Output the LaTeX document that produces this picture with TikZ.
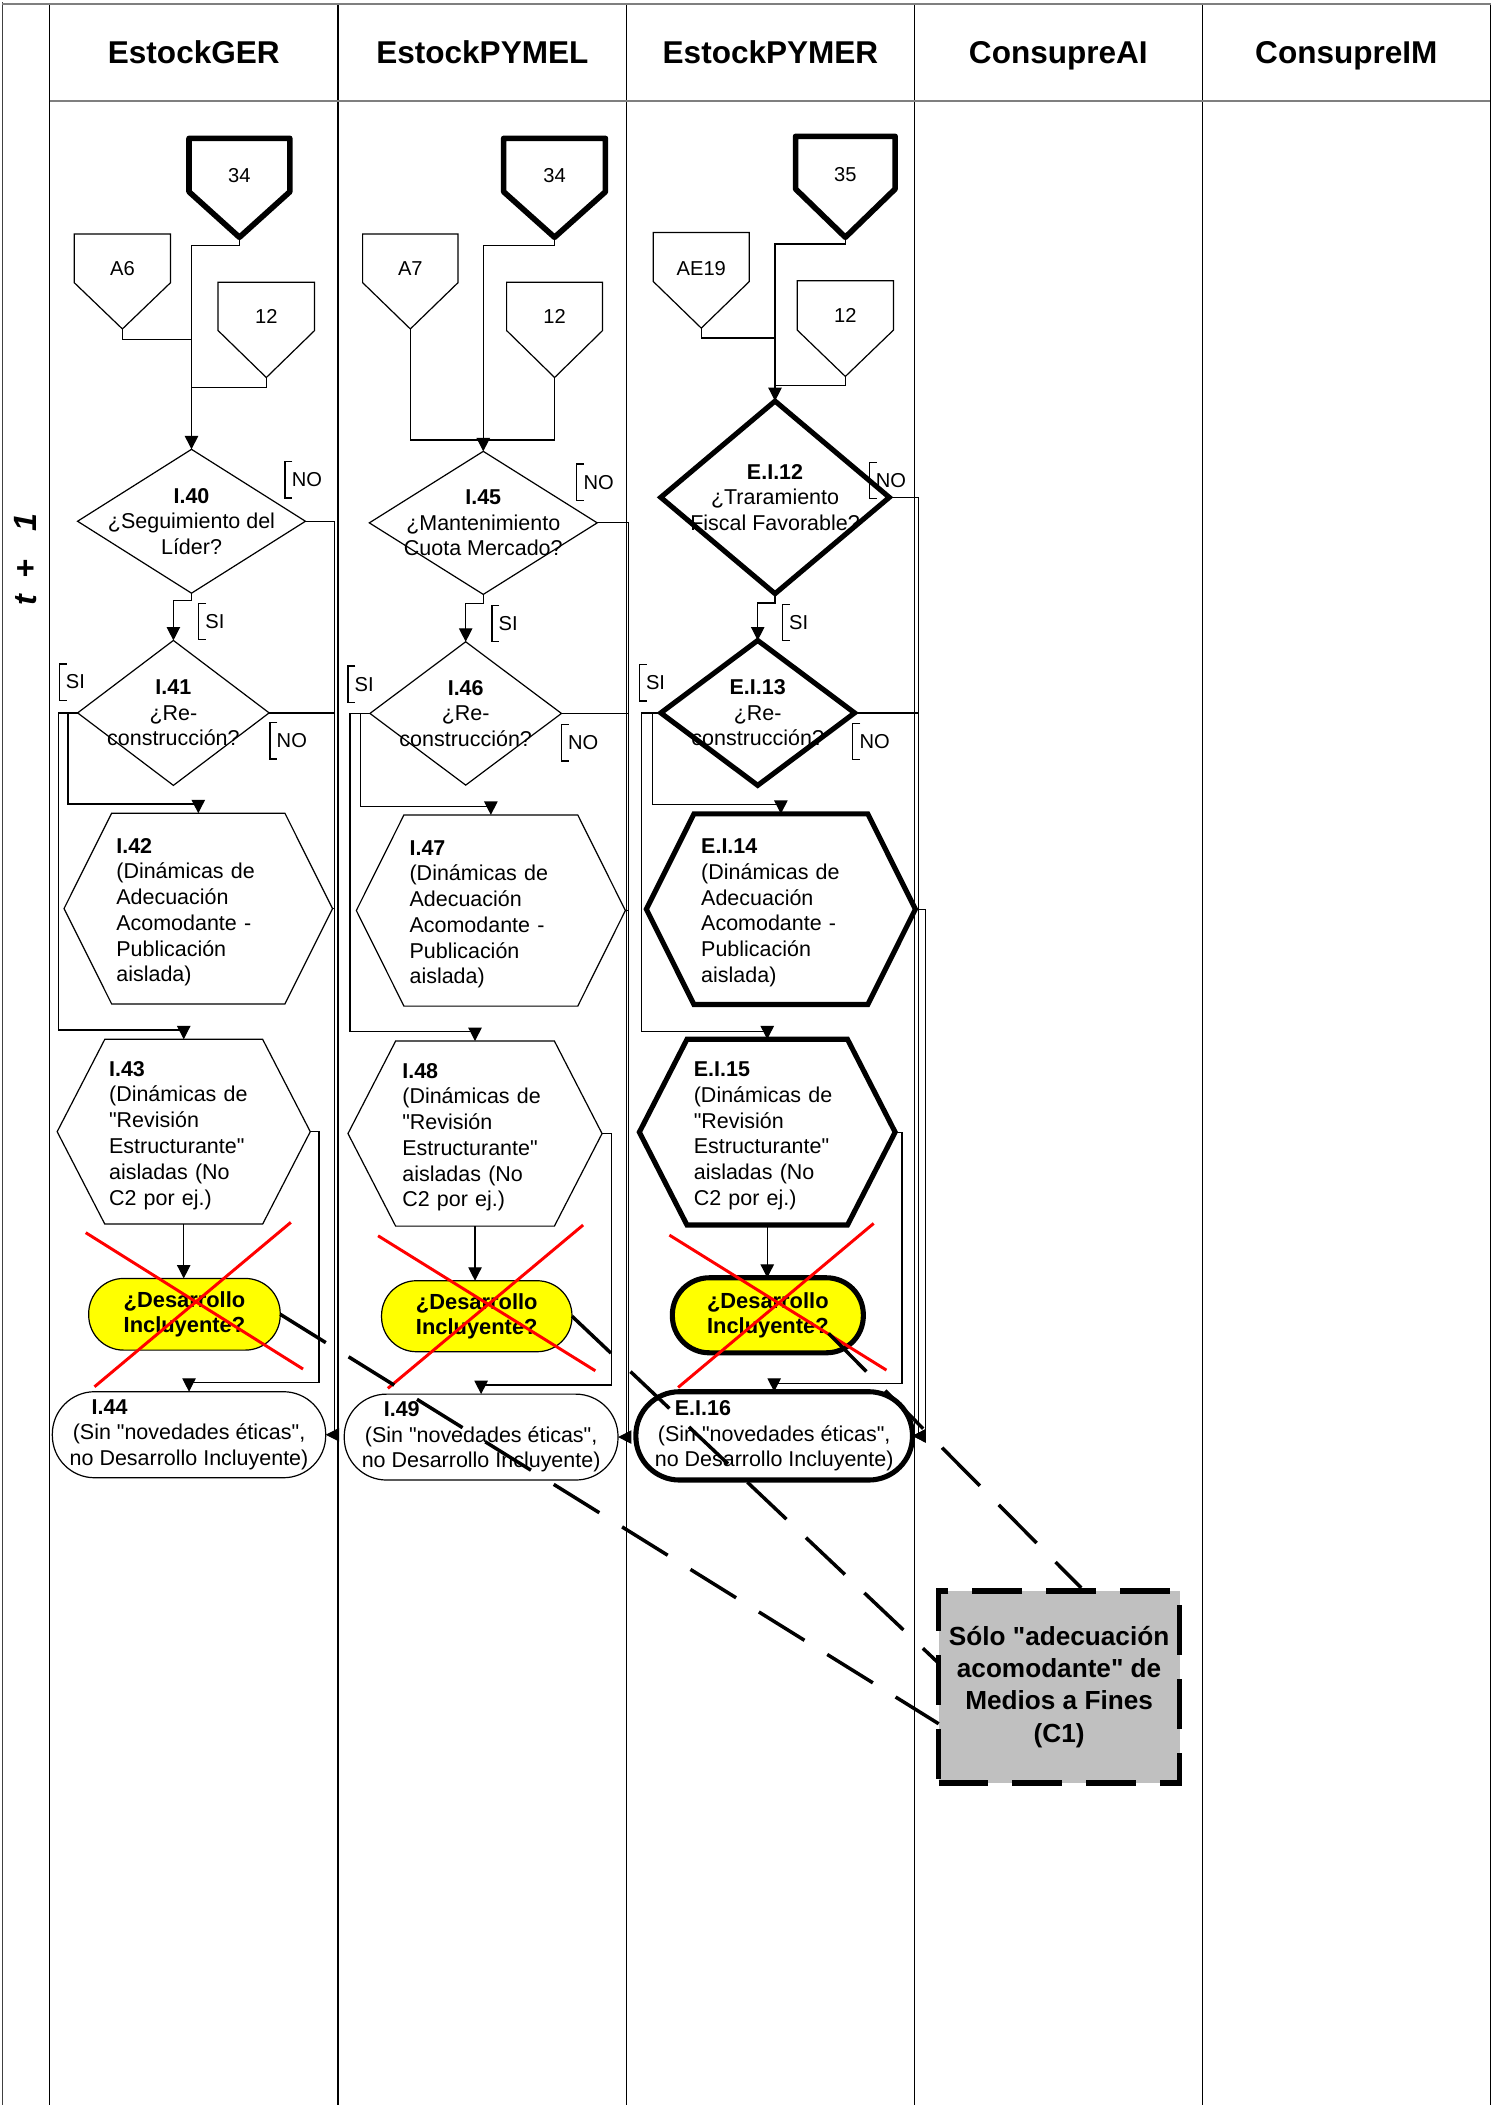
\documentclass[tikz,border=0pt]{standalone}
\usepackage{fontspec}
\setmainfont{Liberation Sans}
\newfontfamily\arialq{Liberation Sans}
\usetikzlibrary{arrows.meta,calc}
\definecolor{cgray}{HTML}{C0C0C0}
\definecolor{cyel}{HTML}{FFFF00}
\definecolor{cred}{HTML}{FF0000}
\definecolor{lanegr}{HTML}{7F7F7F}
\newcommand\myNF{\arialq\fontsize{16}{19.2}\selectfont}
\newcommand\myDF{\arialq\fontsize{16}{19}\selectfont}
\newcommand\mySF{\arialq\fontsize{16}{19}\selectfont}
\newcommand\myLF{\arialq\fontsize{15}{18}\selectfont}
\newcommand\myHF{\arialq\fontsize{23.5}{28}\selectfont\bfseries}
\newcommand\myCF{\arialq\fontsize{19.5}{24}\selectfont\bfseries}
\newcommand\myYF{\arialq\fontsize{16.3}{18.7}\selectfont\bfseries}
\tikzset{
  box/.style={rectangle,draw=none,inner sep=0pt,outer sep=0pt},
  thinln/.style={line width=0.9pt,draw=black},
  thickln/.style={line width=3.8pt,draw=black,line join=miter},
  offthick/.style={line width=4.2pt,draw=black,line join=round},
  conn/.style={thinln,-{Triangle[length=10pt,width=10pt]}},
  dashln/.style={line width=2.6pt,draw=black,dash pattern=on 40pt off 20pt},
  redx/.style={line width=2.2pt,draw=cred},
  lbl/.style={box,font=\myLF},
  hdr/.style={box,font=\myHF,anchor=base},
}
% offpage connector: name, cx, baseline y, width, text height, text depth, shoulder drop, style, text
\newcommand\offpg[9]{%
  \node[box,anchor=base,minimum width=#4pt,text height=#5pt,text depth=#6pt,font=\myLF] (#1) at (#2,#3) {#9};
  \draw[#8] (#1.north west) -- (#1.north east) -- ++(0,#7) -- (#1.south) -- ($(#1.north west)+(0,#7)$) -- cycle;
}
% decision: name, x, y, w, h, style, text
\newcommand\dmd[7]{%
  \node[box,minimum width=#4pt,minimum height=#5pt,align=center,font=\myDF] (#1) at (#2,#3) {#7};
  \draw[#6] (#1.north) -- (#1.east) -- (#1.south) -- (#1.west) -- cycle;
}
% hexagon: name, x, y, w, h, text width, style, text
\newcommand\hexa[8]{%
  \node[box,minimum width=#4pt,minimum height=#5pt,text width=#6pt,align=left,font=\myNF] (#1) at (#2,#3) {\rule{0pt}{16.6pt}#8};
  \draw[#7] ($(#1.north west)+(35.5,0)$) -- ($(#1.north east)+(-35.5,0)$) -- (#1.east) -- ($(#1.south east)+(-35.5,0)$) -- ($(#1.south west)+(35.5,0)$) -- (#1.west) -- cycle;
}
% bracket label: name, x, y, text
\newcommand\brk[4]{%
  \draw[thinln] (#2,#3) ++(5.5,-13.5) -- ++(-5.5,0) -- ++(0,27) -- ++(5.5,0);
  \node[lbl,anchor=west] (#1) at ({#2+5},#3) {#4};
}
\begin{document}
\begin{tikzpicture}[x=1pt,y=-1pt]
\useasboundingbox (0,0) rectangle (1123,1568.5);
% ---- lanes ----
\draw[line width=1.2pt,draw=black!75] (2,1.5) -- (2,1568.5);
\draw[line width=1pt] (37,3) -- (37,1568.5);
\foreach \cx in {251.8,467,681.2,896,1110.5} \draw[line width=1pt] (\cx,3) -- (\cx,1568.5);
\draw[line width=1.8pt,draw=lanegr] (1.5,3) -- (1111,3);
\draw[line width=1.5pt,draw=lanegr] (37,75) -- (1110.5,75);
\node[hdr] (hGER) at (144.4,47.4) {EstockGER};
\node[hdr] (hPYMEL) at (359.4,47.4) {EstockPYMEL};
\node[hdr] (hPYMER) at (574.1,47.4) {EstockPYMER};
\node[hdr] (hAI) at (788.6,47.4) {ConsupreAI};
\node[hdr] (hIM) at (1003.2,47.4) {ConsupreIM};
\node[box,rotate=90,font=\arialq\fontsize{24}{28}\selectfont\bfseries\itshape] (lane) at (19,417) {t\hspace{12pt}+\hspace{21pt}1};
% ---- off-page connectors ----
\offpg{o34a}{178.4}{135.8}{75.1}{32.7}{41.0}{39.8}{offthick}{34}
\offpg{oA6}{91.2}{205.6}{71.8}{31.2}{39.5}{36.2}{thinln}{A6}
\offpg{o12a}{198.45}{241}{71.9}{30.7}{40.3}{36}{thinln}{12}
\offpg{o34b}{413.2}{135.8}{75.8}{32.7}{41.0}{39.8}{offthick}{34}
\offpg{oA7}{305.75}{205.6}{71.1}{31.2}{39.5}{36.2}{thinln}{A7}
\offpg{o12b}{413.25}{241}{71.5}{30.7}{40.3}{36}{thinln}{12}
\offpg{o35}{629.9}{134.9}{74.2}{33.3}{41.9}{39.2}{offthick}{35}
\offpg{oAE}{522.55}{205}{71.5}{31.8}{39.5}{36.6}{thinln}{AE19}
\offpg{o12c}{629.9}{240.4}{71.6}{31.2}{40.1}{36.8}{thinln}{12}
% ---- decisions ----
\dmd{d40}{142.7}{388.4}{169.8}{107.2}{thinln}{\textbf{I.40}\\¿Seguimiento del\\Líder?}
\dmd{d45}{360.1}{389.6}{169.8}{106.6}{thinln}{\textbf{I.45}\\¿Mantenimiento\\Cuota Mercado?}
\dmd{d12}{577.5}{370.6}{170.3}{143.5}{thickln}{\textbf{E.I.12}\\¿Traramiento\\Fiscal Favorable?}
\dmd{d41}{129.2}{531.2}{142.7}{108}{thinln}{\textbf{I.41}\\¿Re-\\construcción?}
\dmd{d46}{347}{531.6}{142.7}{106.8}{thinln}{\textbf{I.46}\\¿Re-\\construcción?}
\dmd{d13}{564.6}{531.2}{144.4}{108}{thickln}{\textbf{E.I.13}\\¿Re-\\construcción?}
% ---- hexagons ----
\hexa{h42}{147.75}{677}{200.1}{142.1}{122.1}{thinln}{\textbf{I.42}\\(Dinámicas de\\Adecuación\\Acomodante -\\Publicación\\aislada)}
\hexa{h47}{365.75}{678.45}{200.5}{142.5}{121.1}{thinln}{\textbf{I.47}\\(Dinámicas de\\Adecuación\\Acomodante -\\Publicación\\aislada)}
\hexa{h14}{581.85}{677.45}{200.5}{142.1}{118.7}{thickln}{\textbf{E.I.14}\\(Dinámicas de\\Adecuación\\Acomodante -\\Publicación\\aislada)}
\hexa{h43}{136.9}{843.25}{188.6}{137.7}{111.2}{thinln}{\textbf{I.43}\\(Dinámicas de\\"Revisión\\Estructurante"\\aisladas (No\\C2 por ej.)}
\hexa{h48}{353.95}{844.65}{189.3}{137.9}{108.3}{thinln}{\textbf{I.48}\\(Dinámicas de\\"Revisión\\Estructurante"\\aisladas (No\\C2 por ej.)}
\hexa{h15}{571.7}{843.6}{190.6}{138.4}{109.4}{thickln}{\textbf{E.I.15}\\(Dinámicas de\\"Revisión\\Estructurante"\\aisladas (No\\C2 por ej.)}
% ---- yellow terminators ----
\node[box,thinln,fill=cyel,rounded corners=26pt,minimum width=142.7pt,minimum height=53.4pt,align=center,font=\myYF] (y1) at (137.45,979.3) {¿Desarrollo\\Incluyente?};
\node[box,thinln,fill=cyel,rounded corners=26pt,minimum width=141.9pt,minimum height=52.9pt,align=center,font=\myYF] (y2) at (355.25,980.75) {¿Desarrollo\\Incluyente?};
\node[box,thickln,fill=cyel,rounded corners=27.5pt,minimum width=142.3pt,minimum height=55.9pt,align=center,font=\myYF] (y3) at (572.15,980.05) {¿Desarrollo\\Incluyente?};
% ---- end terminators ----
\node[box,thinln,rounded corners=31.5pt,minimum width=203.7pt,minimum height=64.1pt,align=center,font=\mySF] (s44) at (140.85,1069.05) {\makebox[145pt][l]{\textbf{I.44}}\\(Sin "novedades éticas",\\no Desarrollo Incluyente)};
\node[box,thinln,rounded corners=31.5pt,minimum width=204pt,minimum height=64pt,align=center,font=\mySF] (s49) at (358.5,1070.8) {\makebox[145pt][l]{\textbf{I.49}}\\(Sin "novedades éticas",\\no Desarrollo Incluyente)};
\node[box,thickln,rounded corners=32.5pt,minimum width=206.1pt,minimum height=65.8pt,align=center,font=\mySF] (s16) at (576.85,1069.9) {\makebox[148pt][l]{\textbf{E.I.16}}\\(Sin "novedades éticas",\\no Desarrollo Incluyente)};
% ---- C1 box ----
\node[box,draw=black,fill=cgray,line width=4pt,dash pattern=on 37pt off 18pt,minimum width=179.5pt,minimum height=143.2pt,align=center,font=\myCF] (c1) at (789.15,1257) {Sólo "adecuación\\acomodante" de\\Medios a Fines\\(C1)};
% ---- labels ----
\brk{nA}{212.4}{357.6}{NO}
\brk{sA}{148.1}{463.1}{SI}
\brk{sB}{44.1}{508.2}{SI}
\brk{nB}{201.2}{552}{NO}
\brk{nC}{429.8}{359.3}{NO}
\brk{sC}{366.6}{464.7}{SI}
\brk{sD}{259.3}{509.8}{SI}
\brk{nD}{418.3}{553.5}{NO}
\brk{nE}{647.6}{358}{NO}
\brk{sE}{583}{464}{SI}
\brk{sF}{476.4}{508.8}{SI}
\brk{nF}{635.5}{552.5}{NO}
% ---- connectors: column 1 ----
\coordinate (jA6) at (142.7,252.8);
\coordinate (j12a) at (142.7,288.7);
\draw[thinln] (oA6.south) |- (jA6);
\draw[thinln] (o12a.south) |- (j12a);
\draw[conn] (o34a.south) -- ++(0,5.9) -| (d40.north);
\draw[conn] (d40.south) -- ++(0,5.5) -| (d41.north);
\draw[conn] (d41.west) -| (50.6,599) -| (h42.north);
\draw[conn] (d41.west) -| (43.3,767.5) -| (h43.north);
\draw[conn] (d40.east) -| (249.5,1069.05) -- (s44.east);
\draw[thinln] (d41.east) -- (249.5,531.2);
\draw[thinln] (h42.east) -- (249.5,677);
\draw[conn] (h43.east) -| (237.7,1030.3) -| (s44.north);
\draw[conn] (h43.south) -- (h43.south |- y1.north);
% ---- connectors: column 2 ----
\coordinate (jA7) at (413.25,327.9);
\draw[thinln] (oA7.south) |- (jA7) -- (o12b.south);
\draw[conn] (o34b.south) -- ++(0,5.9) -| (d45.north);
\draw[conn] (d45.south) -- ++(0,7) -| (d46.north);
\draw[conn] (d46.west) -| (268.4,600.7) -| (h47.north);
\draw[conn] (d46.west) -| (260.8,768.8) -| (h48.north);
\draw[conn] (d45.east) -| (468.5,1070.8) -- (s49.east);
\draw[thinln] (d46.east) -- (468.5,531.6);
\draw[thinln] (h47.east) -- (468.5,678.45);
\draw[conn] (h48.east) -| (455.8,1032) -| (s49.north);
\draw[conn] (h48.south) -- (h48.south |- y2.north);
% ---- connectors: column 3 ----
\coordinate (jAE) at (577.5,251.9);
\coordinate (j12c) at (577.5,287.2);
\draw[thinln] (oAE.south) |- (jAE);
\draw[thinln] (o12c.south) |- (j12c);
\draw[conn] (o35.south) -- ++(0,5) -| (d12.north);
\draw[conn] (d12.south) -- ++(0,7) -| (d13.north);
\draw[conn] (d13.west) -| (485.9,599.5) -| (h14.north);
\draw[conn] (d13.west) -| (478.1,768.3) -| (h15.north);
\draw[conn] (d12.east) -| (684.2,1069.9) -- (s16.east);
\draw[thinln] (d13.east) -- (684.2,531.2);
\draw[conn] (h14.east) -| (689.4,1069.9) -- (s16.east);
\draw[conn] (h15.east) -| (672.1,1030.8) -| (s16.north);
\draw[conn] (h15.south) -- (h15.south |- y3.north);
% ---- red crosses ----
\draw[redx] (63.9,918.5) -- (225.8,1020.1);
\draw[redx] (216.7,910.8) -- (70.4,1033.3);
\draw[redx] (281.7,920.8) -- (443.6,1021.4);
\draw[redx] (434.5,912.8) -- (289,1034.5);
\draw[redx] (498.8,920.3) -- (660.5,1020.9);
\draw[redx] (651,911.6) -- (505.3,1033.8);
% ---- dashed links to C1 ----
\draw[dashln] (y1.east) -- ($(c1.south west)+(0,-44.2)$);
\draw[dashln] (y2.east) -- ($(c1.north west)+(0,53.9)$);
\draw[dashln] ($(y3.center)+(45.25,13.5)$) -- ($(c1.north)+(16.5,-2.2)$);
\end{tikzpicture}
\end{document}
